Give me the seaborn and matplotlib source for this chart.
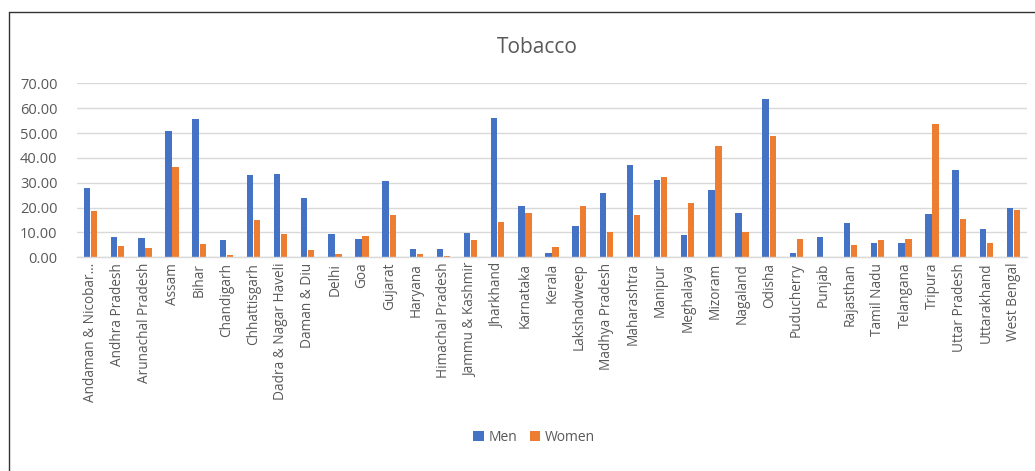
import matplotlib
matplotlib.use("Agg")
import matplotlib.pyplot as plt
from matplotlib.lines import Line2D
from matplotlib.patches import Patch
import seaborn as sns
import pandas as pd

states = [
    "Andaman & Nicobar…", "Andhra Pradesh", "Arunachal Pradesh", "Assam", "Bihar",
    "Chandigarh", "Chhattisgarh", "Dadra & Nagar Haveli", "Daman & Diu", "Delhi",
    "Goa", "Gujarat", "Haryana", "Himachal Pradesh", "Jammu & Kashmir",
    "Jharkhand", "Karnataka", "Kerala", "Lakshadweep", "Madhya Pradesh",
    "Maharashtra", "Manipur", "Meghalaya", "Mizoram", "Nagaland",
    "Odisha", "Puducherry", "Punjab", "Rajasthan", "Tamil Nadu",
    "Telangana", "Tripura", "Uttar Pradesh", "Uttarakhand", "West Bengal",
]
men = [
    27.7, 8.0, 7.6, 50.7, 55.5,
    7.0, 33.0, 33.4, 23.7, 9.5,
    7.4, 30.8, 3.4, 3.2, 9.7,
    56.2, 20.6, 1.7, 12.5, 25.7,
    37.0, 31.1, 9.1, 27.2, 17.8,
    63.8, 1.7, 8.2, 13.8, 5.9,
    5.9, 17.4, 35.1, 11.4, 20.0,
]
women = [
    18.6, 4.6, 3.8, 36.3, 5.2,
    1.1, 15.0, 9.5, 2.8, 1.2,
    8.7, 16.9, 1.2, 0.5, 7.1,
    14.1, 17.7, 4.2, 20.5, 10.1,
    16.9, 32.2, 21.8, 44.6, 10.1,
    48.8, 7.4, 0.0, 5.1, 7.0,
    7.4, 53.6, 15.4, 5.9, 19.0,
]
series = ["Men", "Women"]
colors = {"Men": "#4472C4", "Women": "#ED7D31"}
yticks = [0, 10, 20, 30, 40, 50, 60, 70]

df = pd.DataFrame({
    "State": states * 2,
    "Group": ["Men"] * len(states) + ["Women"] * len(states),
    "Value": men + women,
})

sns.set_theme(style="white")
plt.rcParams["font.family"] = ["Open Sans", "DejaVu Sans"]
text_color = "#595959"
grid_color = "#D9D9D9"

fig = plt.figure(figsize=(10.35, 4.71), dpi=100)
ax = fig.add_axes([0.0744, 0.4537, 0.9179, 0.3694])

sns.barplot(data=df, x="State", y="Value", hue="Group", hue_order=series,
            palette=colors, width=0.52, gap=0.1, order=states,
            saturation=1, ax=ax, legend=False, edgecolor="none")

ax.set_ylim(0, 70)
ax.set_xlim(-0.5, len(states) - 0.5)
ax.set_yticks(yticks)
ax.set_yticklabels([f"{v:.2f}" for v in yticks], color=text_color, fontsize=10.5)
ax.yaxis.grid(True, color=grid_color, linewidth=1)
ax.set_axisbelow(True)
for side in ["top", "right", "left"]:
    ax.spines[side].set_visible(False)
ax.spines["bottom"].set_color(grid_color)
ax.spines["bottom"].set_linewidth(1)
ax.tick_params(axis="y", length=0, pad=14)
ax.tick_params(axis="x", length=0, pad=4)
ax.set_xticks(range(len(states)))
ax.set_xticklabels(states, rotation=90, color=text_color, fontsize=9.8)
ax.set_xlabel("")
ax.set_ylabel("")

fig.text(0.519, 0.9, "Tobacco", ha="center", va="center", fontsize=15, color=text_color)

handles = [Patch(facecolor=colors[s], edgecolor="none", label=s) for s in series]
fig.legend(handles=handles, loc="center", bbox_to_anchor=(0.516, 0.072), ncol=2,
           frameon=False, fontsize=10, labelcolor=text_color,
           handlelength=0.75, handleheight=0.75, handletextpad=0.35, columnspacing=0.9)

# chart frame
fig.add_artist(Line2D([9 / 1035, 9 / 1035], [0, 1 - 12 / 471], transform=fig.transFigure,
                      color="#333333", linewidth=1))
fig.add_artist(Line2D([9 / 1035, 1], [1 - 12 / 471, 1 - 12 / 471], transform=fig.transFigure,
                      color="#333333", linewidth=1))

fig.savefig("out.png", dpi=100, facecolor="white")
